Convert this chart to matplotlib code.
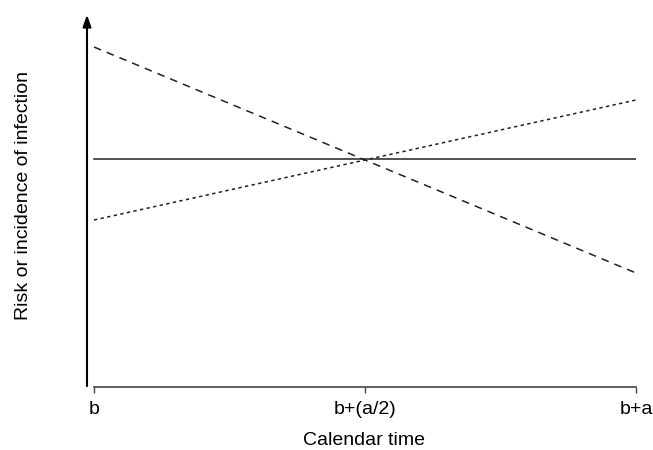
import matplotlib
matplotlib.use("Agg")
import matplotlib.pyplot as plt

# Datos (unidades arbitrarias)
tiempo = [0.0, 0.5, 1.0]
etiquetas_x = ["b", "b+(a/2)", "b+a"]
riesgo_constante = [2.28, 2.28, 2.28]
riesgo_decreciente = [3.40, 2.27, 1.14]
riesgo_creciente = [1.67, 2.27, 2.87]

plt.rcParams["font.family"] = ["Liberation Sans", "DejaVu Sans"]

fig = plt.figure(figsize=(6.53, 4.5), dpi=100)
ax = fig.add_axes([87 / 653, 63 / 450, (636 - 87) / 653, (387 - 12) / 450])

ax.plot(tiempo, riesgo_constante, color="#222222", linewidth=1.1)
ax.plot(tiempo, riesgo_decreciente, color="#222222", linewidth=1.1, dashes=(5, 4))
ax.plot(tiempo, riesgo_creciente, color="#222222", linewidth=1.1, dashes=(2.2, 2.2))

ax.set_xlim(-7 / 542, 1.0)
ax.set_ylim(0, 3.75)

# Ejes: eje Y con flecha, eje X separado con marcas hacia abajo
for lado in ["top", "right", "left"]:
    ax.spines[lado].set_visible(False)
ax.spines["bottom"].set_bounds(0, 1)
ax.spines["bottom"].set_color("#444444")
ax.spines["bottom"].set_linewidth(1.2)
ax.annotate(
    "",
    xy=(0, 1.0),
    xytext=(0, -0.005),
    xycoords="axes fraction",
    arrowprops=dict(arrowstyle="-|>,head_length=0.7,head_width=0.25", color="black", lw=1.5),
)

ax.set_xticks(tiempo)
ax.set_xticklabels(etiquetas_x, fontsize=14)
ax.tick_params(axis="x", length=4, width=1, color="#444444", pad=6)
ax.set_yticks([])

ax.set_xlabel("Calendar time", fontsize=14)
ax.set_ylabel("Risk or incidence of infection", fontsize=14)
ax.xaxis.set_label_coords(0.5046, -0.12)
ax.yaxis.set_label_coords(-0.10, 0.512)

fig.savefig("out.png", dpi=100)
